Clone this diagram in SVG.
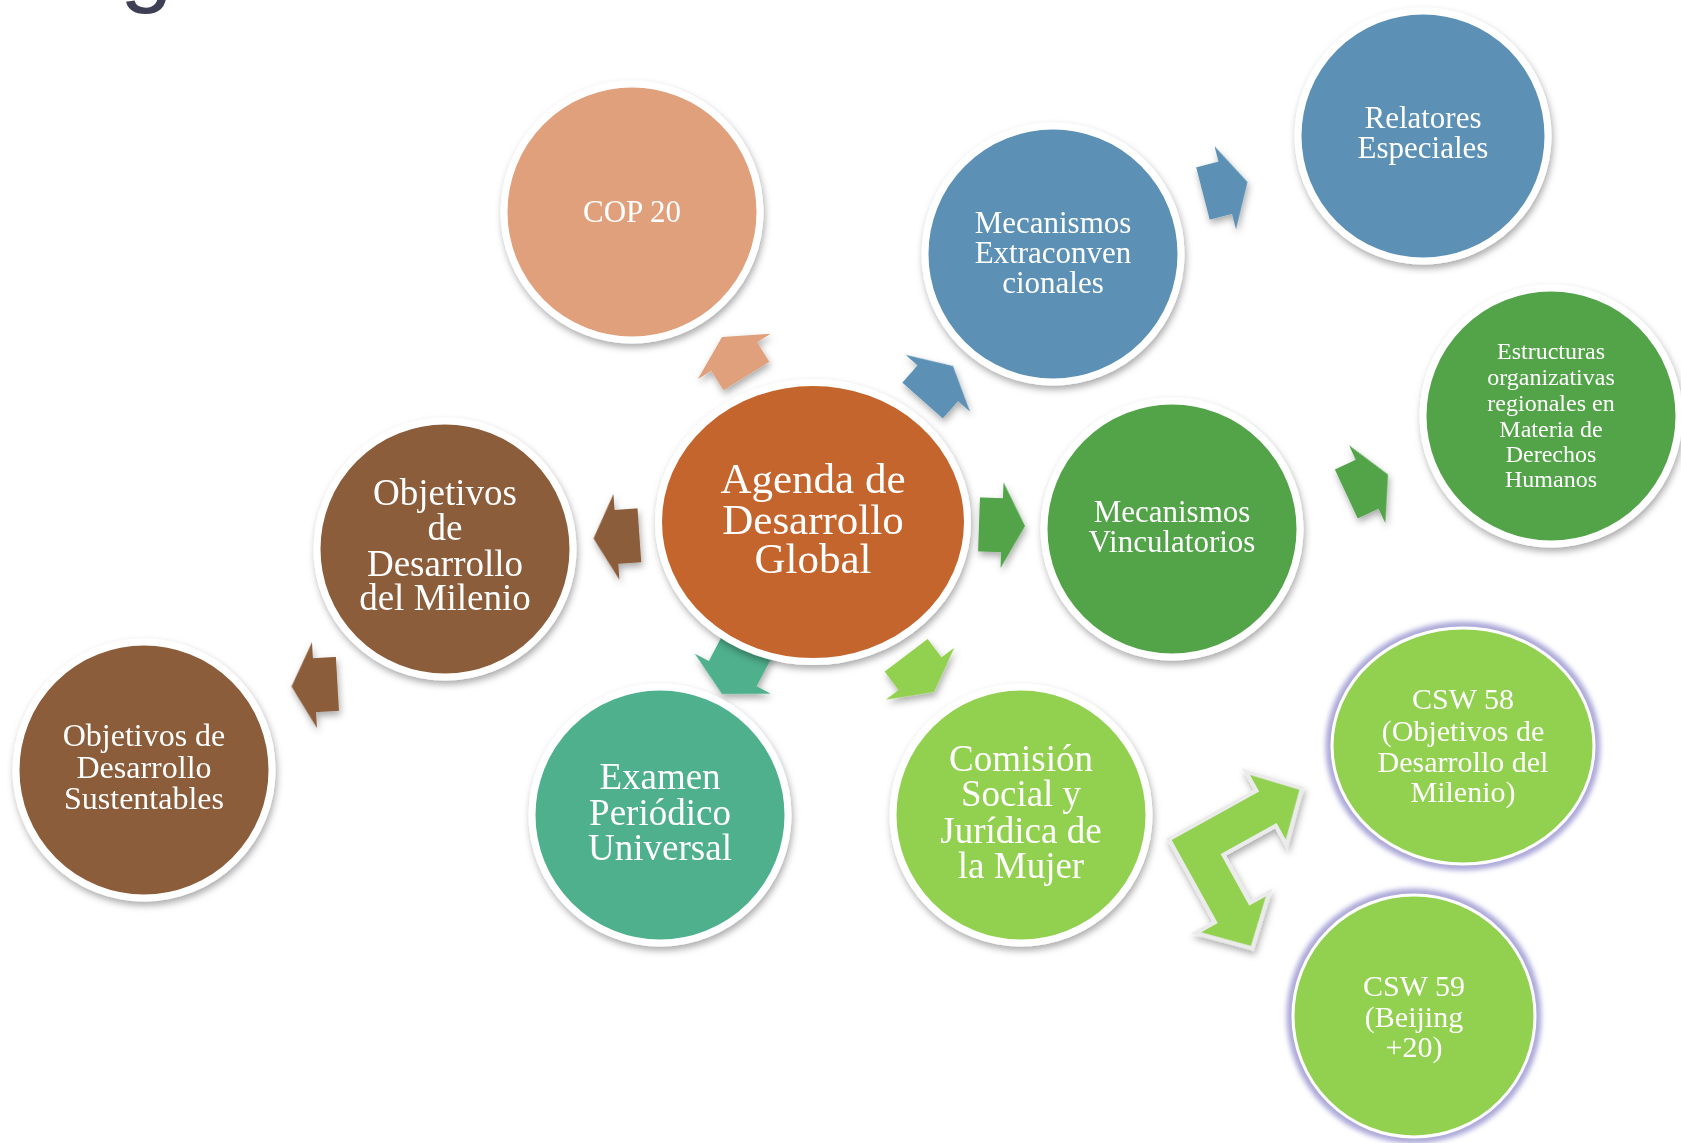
<svg xmlns="http://www.w3.org/2000/svg" xmlns:xlink="http://www.w3.org/1999/xlink" width="1681" height="1143" viewBox="0 0 1681 1143">
<defs>
<filter id="sh" x="-20%" y="-20%" width="140%" height="140%"><feDropShadow dx="1.5" dy="4" stdDeviation="3.5" flood-color="#000" flood-opacity="0.33"/></filter>
<filter id="glow" x="-10%" y="-10%" width="120%" height="120%"><feGaussianBlur stdDeviation="2.5"/></filter>
<path id="arr" d="M0,0 L-23,-43 L-23,-27 L-46,-27 L-46,27 L-23,27 L-23,43 Z"/>
<path id="arrL" d="M0,0 L-23,-43 L-23,-27 L-72,-27 L-72,27 L-23,27 L-23,43 Z"/>
</defs>
<style>
.ring{stroke:#fff;stroke-width:7}
.thin{stroke:#fff;stroke-width:3}
.halo{fill:none;stroke:#aaa7d8;stroke-width:9}
.lbl{font-family:"Liberation Serif","Times New Roman",serif;fill:#fff;text-anchor:middle}
</style>
<rect width="1681" height="1143" fill="#fff"/>
<text x="120" y="-6" font-family="Liberation Sans, Arial, sans-serif" font-size="95" fill="#3e3e55">g</text>

<g id="connectors" filter="url(#sh)">
<use xlink:href="#arr" fill="#E0A07C" transform="translate(722,337) rotate(-122)"/>
<use xlink:href="#arr" fill="#8B5D3B" transform="translate(593.5,538.5) rotate(176)"/>
<use xlink:href="#arrL" fill="#4FB08D" transform="translate(722,694) rotate(117.8)"/>
<use xlink:href="#arr" fill="#92D050" transform="translate(934,692) rotate(52.8)"/>
<use xlink:href="#arr" fill="#5B91B5" transform="translate(953,366) rotate(-48.6)"/>
<use xlink:href="#arr" fill="#5B91B5" transform="translate(1247.5,182) rotate(-14.5)"/>
<use xlink:href="#arr" fill="#52A44A" transform="translate(1025,526) rotate(2)"/>
<use xlink:href="#arr" fill="#52A44A" transform="translate(1388,474.5) rotate(-25)"/>
<use xlink:href="#arr" fill="#8B5D3B" transform="translate(291.5,686.5) rotate(176.7)"/>
<path d="M0,0 L100,0 L100,-19 L136,18 L100,55 L100,36 L36,36 L36,95 L55,95 L18,131 L-19,95 L0,95 Z" fill="#92D050" stroke="#ebebeb" stroke-width="8" paint-order="stroke" stroke-linejoin="miter" transform="translate(1171.7,840) rotate(-29)"/>
</g>

<g id="n-cop20">
<circle cx="632" cy="212" r="128" fill="#E0A07C" class="ring" filter="url(#sh)"/>
<text class="lbl" x="632" y="222" font-size="31">COP 20</text>
</g>

<g id="n-agenda">
<ellipse cx="813" cy="522" rx="154.5" ry="139.5" fill="#C4652E" class="ring" filter="url(#sh)"/>
<text class="lbl" font-size="43"><tspan x="813" y="493">Agenda de</tspan><tspan x="813" y="534">Desarrollo</tspan><tspan x="813" y="573">Global</tspan></text>
</g>

<g id="n-extraconv">
<circle cx="1053" cy="254" r="128" fill="#5B91B5" class="ring" filter="url(#sh)"/>
<text class="lbl" font-size="31"><tspan x="1053" y="233">Mecanismos</tspan><tspan x="1053" y="263">Extraconven</tspan><tspan x="1053" y="293">cionales</tspan></text>
</g>

<g id="n-relatores">
<circle cx="1423" cy="136" r="125" fill="#5B91B5" class="ring" filter="url(#sh)"/>
<text class="lbl" font-size="31"><tspan x="1423" y="128">Relatores</tspan><tspan x="1423" y="158">Especiales</tspan></text>
</g>

<g id="n-estructuras">
<circle cx="1551" cy="416" r="128" fill="#52A44A" class="ring" filter="url(#sh)"/>
<text class="lbl" font-size="24"><tspan x="1551" y="359">Estructuras</tspan><tspan x="1551" y="385">organizativas</tspan><tspan x="1551" y="411">regionales en</tspan><tspan x="1551" y="437">Materia de</tspan><tspan x="1551" y="462">Derechos</tspan><tspan x="1551" y="487">Humanos</tspan></text>
</g>

<g id="n-vinculatorios">
<circle cx="1172" cy="529" r="128" fill="#52A44A" class="ring" filter="url(#sh)"/>
<text class="lbl" font-size="31"><tspan x="1172" y="522">Mecanismos</tspan><tspan x="1172" y="552">Vinculatorios</tspan></text>
</g>

<g id="n-odm">
<circle cx="445" cy="549" r="128" fill="#8B5D3B" class="ring" filter="url(#sh)"/>
<text class="lbl" font-size="37"><tspan x="445" y="505">Objetivos</tspan><tspan x="445" y="540">de</tspan><tspan x="445" y="576">Desarrollo</tspan><tspan x="445" y="610">del Milenio</tspan></text>
</g>

<g id="n-ods">
<circle cx="144" cy="770" r="128" fill="#8B5D3B" class="ring" filter="url(#sh)"/>
<text class="lbl" font-size="32"><tspan x="144" y="746">Objetivos de</tspan><tspan x="144" y="778">Desarrollo</tspan><tspan x="144" y="809">Sustentables</tspan></text>
</g>

<g id="n-epu">
<circle cx="660" cy="815" r="128" fill="#4FB08D" class="ring" filter="url(#sh)"/>
<text class="lbl" font-size="37"><tspan x="660" y="789">Examen</tspan><tspan x="660" y="825">Periódico</tspan><tspan x="660" y="860">Universal</tspan></text>
</g>

<g id="n-csw">
<circle cx="1021" cy="815" r="128" fill="#92D050" class="ring" filter="url(#sh)"/>
<text class="lbl" font-size="37"><tspan x="1021" y="771">Comisión</tspan><tspan x="1021" y="806">Social y</tspan><tspan x="1021" y="843">Jurídica de</tspan><tspan x="1021" y="878">la Mujer</tspan></text>
</g>

<g id="n-csw58">
<ellipse cx="1463" cy="746" rx="133" ry="120" class="halo" filter="url(#glow)"/>
<ellipse cx="1463" cy="746" rx="131" ry="118" fill="#92D050" class="thin"/>
<text class="lbl" font-size="30"><tspan x="1463" y="709">CSW 58</tspan><tspan x="1463" y="741">(Objetivos de</tspan><tspan x="1463" y="772">Desarrollo del</tspan><tspan x="1463" y="802">Milenio)</tspan></text>
</g>

<g id="n-csw59">
<circle cx="1414" cy="1016" r="123" class="halo" filter="url(#glow)"/>
<circle cx="1414" cy="1016" r="121" fill="#92D050" class="thin"/>
<text class="lbl" font-size="30"><tspan x="1414" y="996">CSW 59</tspan><tspan x="1414" y="1027">(Beijing</tspan><tspan x="1414" y="1057">+20)</tspan></text>
</g>
</svg>
